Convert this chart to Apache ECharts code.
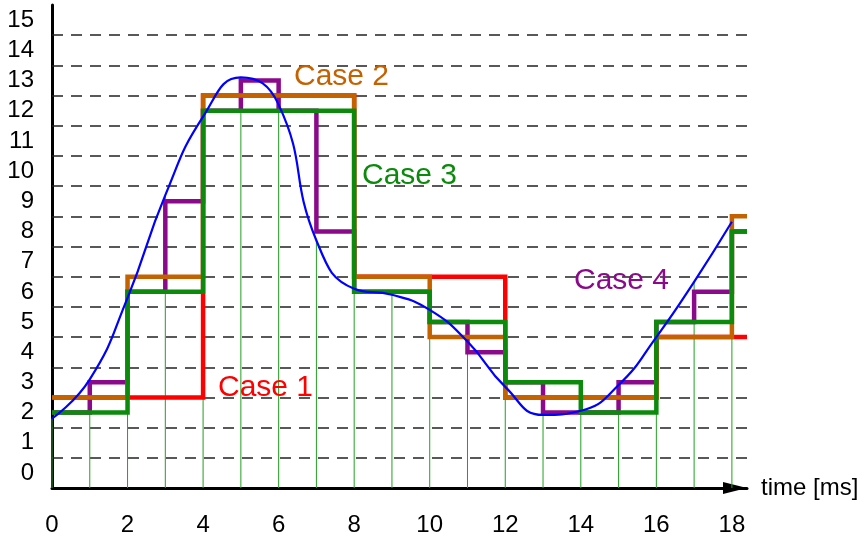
<!DOCTYPE html>
<html>
<head>
<meta charset="utf-8">
<script src="https://cdn.jsdelivr.net/npm/echarts@6/dist/echarts.min.js"></script>
<style>
  html, body { margin: 0; padding: 0; background: #fff; }
  #chart { width: 868px; height: 538px; }
</style>
</head>
<body>
<div id="chart"></div>
<script>
// values
const xTicks = [0, 2, 4, 6, 8, 10, 12, 14, 16, 18];
const yTicks = [0, 1, 2, 3, 4, 5, 6, 7, 8, 9, 10, 11, 12, 13, 14, 15];
const gridLevels = [1, 2, 3, 4, 5, 6, 7, 8, 9, 10, 11, 12, 13, 14, 15];

// blue signal
const curveTimes = [0, 1, 2, 3, 4, 5, 6, 7, 8, 9, 10, 11, 12, 13, 14, 15, 16, 17, 18];
const curveValues = [2.3, 3.6, 6.3, 9.7, 12.3, 13.6, 12.7, 8.2, 6.6, 6.4, 5.9, 4.85, 3.35, 2.42, 2.56, 3.41, 5.0, 6.83, 8.82];

// sample stems (1 ms)
const sampleTimes = [0, 1, 2, 3, 4, 5, 6, 7, 8, 9, 10, 11, 12, 13, 14, 15, 16, 17, 18];
const sampleValues = [2.3, 3.6, 6.3, 9.7, 12.3, 13.6, 12.7, 8.2, 6.6, 6.4, 5.9, 4.85, 3.35, 2.42, 2.56, 3.41, 5.0, 6.83, 8.82];

// step outputs (last point = right end of plot)
const case1Times = [0, 4, 8, 12, 16, 18.4];
const case1Values = [3, 13, 7, 3, 5, 5];
const case2Times = [0, 2, 4, 6, 8, 10, 12, 14, 16, 18, 18.4];
const case2Values = [3, 7, 13, 13, 7, 5, 3, 3, 5, 9, 9];
const case3Times = [0, 2, 4, 6, 8, 10, 12, 14, 16, 18, 18.4];
const case3Values = [2.5, 6.5, 12.5, 12.5, 6.5, 5.5, 3.5, 2.5, 5.5, 8.5, 8.5];
const case4Times = [0, 1, 2, 3, 4, 5, 6, 7, 8, 9, 10, 11, 12, 13, 14, 15, 16, 17, 18, 18.4];
const case4Values = [2.5, 3.5, 6.5, 9.5, 12.5, 13.5, 12.5, 8.5, 6.5, 6.5, 5.5, 4.5, 3.5, 2.5, 2.5, 3.5, 5.5, 6.5, 8.5, 8.5];

const font = "'Liberation Sans', Arial, Helvetica, sans-serif";
const pairs = (ts, vs) => ts.map((t, i) => [t, vs[i]]);

function stepSeries(name, ts, vs, color) {
  return {
    name: name,
    type: 'line',
    step: 'end',
    symbol: 'none',
    z: 3,
    clip: false,
    lineStyle: { color: color, width: 4.5, join: 'miter', cap: 'butt' },
    data: pairs(ts, vs),
  };
}

const chart = echarts.init(document.getElementById('chart'));
chart.setOption({
  animation: false,
  backgroundColor: '#fff',
  grid: { left: 52, right: 121, top: 5, bottom: 50 },
  xAxis: {
    type: 'value',
    min: 0,
    max: 18.4,
    interval: 2,
    name: 'time [ms]',
    nameLocation: 'end',
    nameGap: 14,
    nameTextStyle: { fontSize: 24, color: '#000', fontFamily: font, padding: [4, 0, 0, 0] },
    axisLine: {
      lineStyle: { color: '#000', width: 3 },
      symbol: ['none', 'triangle'],
      symbolSize: [12, 24],
      symbolOffset: [0, -12],
    },
    axisTick: { show: false },
    splitLine: { show: false },
    axisLabel: {
      fontSize: 24,
      color: '#000',
      fontFamily: font,
      margin: 25,
      formatter: v => (xTicks.includes(v) ? String(v) : ''),
    },
  },
  yAxis: {
    type: 'value',
    min: 0,
    max: 16,
    interval: 1,
    axisLine: { lineStyle: { color: '#000', width: 3 } },
    axisTick: { show: false },
    splitLine: { show: false },
    axisLabel: {
      fontSize: 24,
      color: '#000',
      fontFamily: font,
      margin: 18,
      verticalAlign: 'bottom',
      padding: [0, 0, 3, 0],
      formatter: v => (yTicks.includes(v) ? String(v) : ''),
    },
  },
  series: [
    {
      name: 'samples',
      type: 'bar',
      barWidth: 1,
      z: 2,
      itemStyle: { color: '#22a022' },
      data: pairs(sampleTimes, sampleValues),
      markLine: {
        silent: true,
        z: 1,
        symbol: ['none', 'none'],
        label: { show: false },
        lineStyle: { color: '#222', width: 1.5, type: [11, 8] },
        data: gridLevels.map(v => ({ yAxis: v })),
      },
    },
    stepSeries('Case 1', case1Times, case1Values, '#ff0000'),
    stepSeries('Case 4', case4Times, case4Values, '#8b0a8b'),
    stepSeries('Case 2', case2Times, case2Values, '#c46200'),
    stepSeries('Case 3', case3Times, case3Values, '#0b8a0b'),
    {
      name: 'signal',
      type: 'line',
      smooth: 0.5,
      symbol: 'none',
      z: 4,
      lineStyle: { color: '#0000ff', width: 2.2 },
      data: pairs(curveTimes, curveValues),
    },
  ],
  graphic: [
    { type: 'text', x: 218, y: 388, z: 10, style: { text: 'Case 1', fill: '#ff0000', font: '30px ' + font, verticalAlign: 'middle' } },
    { type: 'text', x: 294, y: 77, z: 10, style: { text: 'Case 2', fill: '#c46200', font: '30px ' + font, verticalAlign: 'middle' } },
    { type: 'text', x: 362, y: 176, z: 10, style: { text: 'Case 3', fill: '#0b8a0b', font: '30px ' + font, verticalAlign: 'middle' } },
    { type: 'text', x: 574, y: 281, z: 10, style: { text: 'Case 4', fill: '#8b0a8b', font: '30px ' + font, verticalAlign: 'middle' } },
  ],
});
</script>
</body>
</html>
